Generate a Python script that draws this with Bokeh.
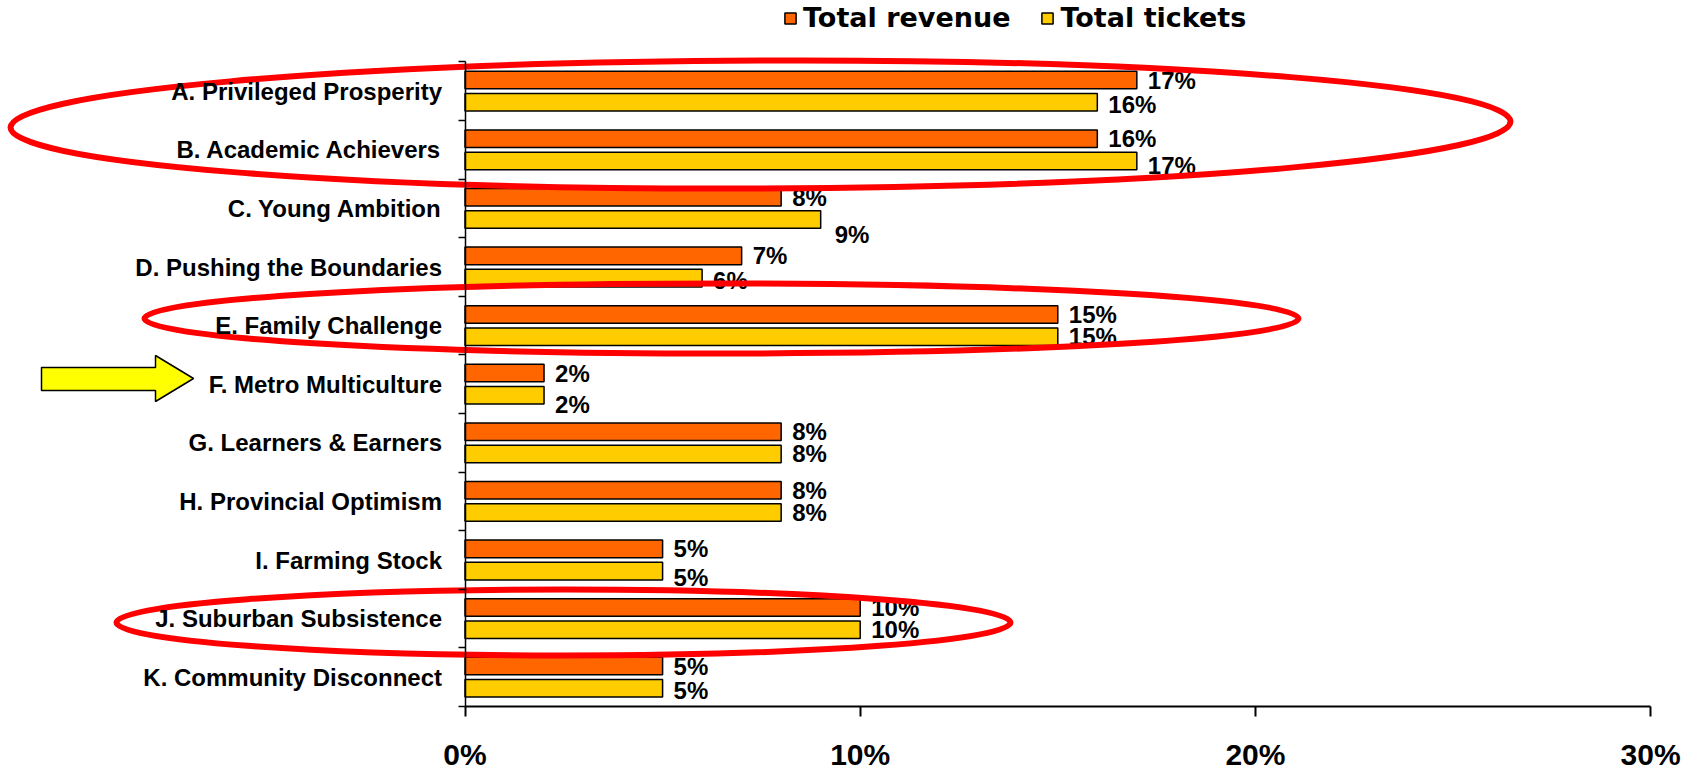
from bokeh.plotting import figure
from bokeh.models import Range1d, FixedTicker, ColumnDataSource, Legend, LegendItem
from bokeh.transform import dodge
from bokeh.core.properties import value
from bokeh.embed import file_html
from bokeh.resources import INLINE

# ---------------- data ----------------
categories = [
    "A. Privileged Prosperity",
    "B. Academic Achievers",
    "C. Young Ambition",
    "D. Pushing the Boundaries",
    "E. Family Challenge",
    "F. Metro Multiculture",
    "G. Learners & Earners",
    "H. Provincial Optimism",
    "I. Farming Stock",
    "J. Suburban Subsistence",
    "K. Community Disconnect",
]
total_revenue = [17, 16, 8, 7, 15, 2, 8, 8, 5, 10, 5]
total_tickets = [16, 17, 9, 6, 15, 2, 8, 8, 5, 10, 5]
series_names = ["Total revenue", "Total tickets"]
x_ticks = [0, 10, 20, 30]
x_tick_labels = ["0%", "10%", "20%", "30%"]

# ---------------- layout / style ----------------
W, H = 1700, 770
X0_PX = 464.5        # canvas x of 0%
PX_PER_PCT = 39.52   # pixels per 1%
AXIS_Y_PX = 706      # canvas y of the category axis bottom
BAND_PX = 58.6       # pixels per category
BAR_H = 0.30
BAR_OFF = 0.19
ORANGE = "#FF6600"
YELLOW = "#FFCC00"
RED = "#FF0000"
FONT = "Liberation Sans"

# small downward nudges (px) of the tickets labels, as placed in the original
tickets_label_nudge = [2, 5, 15, 2, 0, 9, 0, 0, 6, 0, 2]
tickets_label_xnudge = [0, 0, 3, 0, 0, 0, 0, 0, 0, 0, 0]


def px_x(px):
    return (px - X0_PX) / PX_PER_PCT


def px_y(py):
    return (AXIS_Y_PX - py) / BAND_PX - 0.5


n = len(categories)
ypos = [n - 1 - i for i in range(n)]

src = ColumnDataSource(dict(
    y=ypos,
    cat=categories,
    rev=total_revenue,
    tix=total_tickets,
    rev_lbl=[f"{v}%" for v in total_revenue],
    tix_lbl=[f"{v}%" for v in total_tickets],
    tix_dy=tickets_label_nudge,
    tix_dx=[11 + d for d in tickets_label_xnudge],
))

p = figure(
    width=W, height=H,
    x_range=Range1d(px_x(0), px_x(W)),
    y_range=Range1d(px_y(H), px_y(0)),
    output_backend="svg", toolbar_location=None,
    min_border=0, min_border_left=0, min_border_right=0,
    min_border_top=0, min_border_bottom=0,
)
p.outline_line_color = None
p.grid.visible = False
p.background_fill_color = "white"

# bars
r_rev = p.hbar(y=dodge("y", BAR_OFF), left=0, right="rev", height=BAR_H, source=src,
               fill_color=ORANGE, line_color="black", line_width=1.5)
r_tix = p.hbar(y=dodge("y", -BAR_OFF), left=0, right="tix", height=BAR_H, source=src,
               fill_color=YELLOW, line_color="black", line_width=1.5)

# value labels
p.text(x="rev", y=dodge("y", BAR_OFF), text="rev_lbl", source=src, x_offset=11,
       text_align="left", text_baseline="middle", text_font=value(FONT),
       text_font_style="bold", text_font_size="24px", text_color="black")
p.text(x="tix", y=dodge("y", -BAR_OFF), text="tix_lbl", source=src, x_offset="tix_dx",
       y_offset="tix_dy",
       text_align="left", text_baseline="middle", text_font=value(FONT),
       text_font_style="bold", text_font_size="24px", text_color="black")

# x axis
xa = p.xaxis[0]
xa.fixed_location = -0.5
xa.bounds = (x_ticks[0], x_ticks[-1])
xa.ticker = FixedTicker(ticks=x_ticks)
xa.major_label_overrides = {t: l for t, l in zip(x_ticks, x_tick_labels)}
xa.major_tick_out = 10
xa.major_tick_in = 0
xa.minor_tick_line_color = None
xa.axis_line_width = 2
xa.axis_line_color = "black"
xa.major_tick_line_width = 2
xa.major_tick_line_color = "black"
xa.major_label_text_font = FONT
xa.major_label_text_font_style = "bold"
xa.major_label_text_font_size = "30px"
xa.major_label_text_color = "black"
xa.major_label_standoff = 21

# y axis (categories)
ya = p.yaxis[0]
ya.fixed_location = 0
ya.bounds = (-0.5, n - 0.5)
ya.ticker = FixedTicker(ticks=ypos, minor_ticks=[k - 0.5 for k in range(n + 1)])
ya.major_label_overrides = {y: c for y, c in zip(ypos, categories)}
ya.major_tick_out = 0
ya.major_tick_in = 0
ya.major_tick_line_color = None
ya.minor_tick_out = 7
ya.minor_tick_in = 0
ya.minor_tick_line_color = "black"
ya.minor_tick_line_width = 1.5
ya.axis_line_width = 1.5
ya.axis_line_color = "black"
ya.major_label_text_font = FONT
ya.major_label_text_font_style = "bold"
ya.major_label_text_font_size = "24px"
ya.major_label_text_color = "black"
ya.major_label_standoff = 16

# yellow block arrow pointing at F
arrow_px = [(41, 367), (155, 367), (155, 355), (193, 378), (155, 401), (155, 390), (41, 390)]
p.patch([px_x(a) for a, _ in arrow_px], [px_y(b) for _, b in arrow_px],
        fill_color="#FFFF00", line_color="black", line_width=1.5)

# red highlight ellipses (centre x, centre y, half-width, half-height in px, angle)
ellipses_px = [(760, 124, 750, 64, 0.004), (721, 318, 577, 35, 0.0), (563, 622, 447, 33, 0.0)]
p.ellipse(x=[px_x(e[0]) for e in ellipses_px], y=[px_y(e[1]) for e in ellipses_px],
          width=[2 * e[2] / PX_PER_PCT for e in ellipses_px],
          height=[2 * e[3] / BAND_PX for e in ellipses_px],
          angle=[e[4] for e in ellipses_px],
          fill_color=None, line_color=RED, line_width=6)

# legend
LEG_H = 30
legend = Legend(
    items=[LegendItem(label=series_names[0], renderers=[r_rev]),
           LegendItem(label=series_names[1], renderers=[r_tix])],
    orientation="horizontal", location=(783, H - 3 - LEG_H),
    glyph_width=14, glyph_height=14, label_standoff=6, spacing=30,
    padding=0, margin=0, border_line_color=None, background_fill_alpha=0,
    label_text_font="DejaVu Sans", label_text_font_style="bold",
    label_text_font_size="27px", label_height=LEG_H, label_text_color="black",
)
p.add_layout(legend)

open("out.html", "w").write(file_html(p, INLINE))
